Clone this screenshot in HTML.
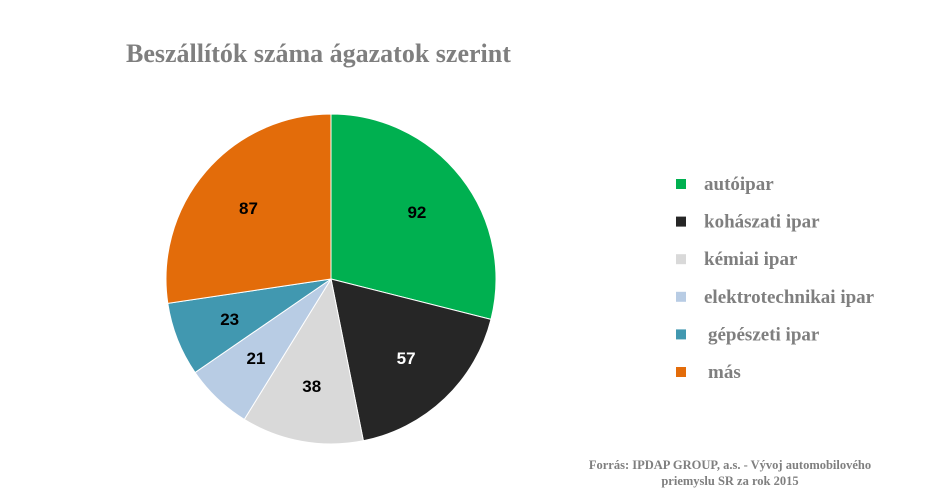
<!DOCTYPE html>
<html><head><meta charset="utf-8"><style>
body{margin:0;background:#fff;width:945px;height:493px;overflow:hidden}
svg{display:block}
</style></head><body>
<svg id="chart" width="945" height="493" xmlns="http://www.w3.org/2000/svg">
<text x="126" y="62" font-family="Liberation Serif, serif" font-weight="bold" font-size="26" fill="#7f7f7f">Beszállítók száma ágazatok szerint</text>
<g id="slices"></g>
<g id="labels"></g>
<g id="legend"></g>
<text font-family="Liberation Serif, serif" font-weight="bold" font-size="12.5" fill="#7f7f7f" text-anchor="middle"><tspan x="730" y="469">Forrás: IPDAP GROUP, a.s. - Vývoj automobilového</tspan><tspan x="730" y="485">priemyslu SR za rok 2015</tspan></text>
</svg>
<script>
const categories=["autóipar","kohászati ipar","kémiai ipar","elektrotechnikai ipar","gépészeti ipar","más"];
const values=[92,57,38,21,23,87];
const colors=["#00b050","#262626","#d9d9d9","#b8cce4","#4198b0","#e36c0a"];
const NS="http://www.w3.org/2000/svg";
const cx=331,cy=279,r=165;
const total=values.reduce((a,b)=>a+b,0);
const gS=document.getElementById('slices'),gL=document.getElementById('labels'),gG=document.getElementById('legend');
let a0=-Math.PI/2;
values.forEach((v,i)=>{
  const a1=a0+v/total*2*Math.PI;
  const x0=cx+r*Math.cos(a0),y0=cy+r*Math.sin(a0),x1=cx+r*Math.cos(a1),y1=cy+r*Math.sin(a1);
  const p=document.createElementNS(NS,'path');
  p.setAttribute('d',`M${cx},${cy}L${x0},${y0}A${r},${r} 0 ${a1-a0>Math.PI?1:0} 1 ${x1},${y1}Z`);
  p.setAttribute('fill',colors[i]);p.setAttribute('stroke','#fff');p.setAttribute('stroke-width','1');
  
  
  gS.appendChild(p);
  const am=(a0+a1)/2,lr=r*0.66;
  const t=document.createElementNS(NS,'text');
  t.setAttribute('x',cx+lr*Math.cos(am));t.setAttribute('y',cy+lr*Math.sin(am)+6);
  t.setAttribute('text-anchor','middle');t.setAttribute('font-family','Liberation Sans, sans-serif');
  t.setAttribute('font-weight','bold');t.setAttribute('font-size','17');
  t.setAttribute('fill',i==1?'#fff':'#000');
  t.textContent=v;
  
  
  gL.appendChild(t);
  a0=a1;
});
categories.forEach((c,i)=>{
  const y=184+i*37.6;
  const g=document.createElementNS(NS,'g');
  
  
  const s=document.createElementNS(NS,'rect');
  s.setAttribute('x',676);s.setAttribute('y',y-5);s.setAttribute('width',10);s.setAttribute('height',10);s.setAttribute('fill',colors[i]);
  
  
  const t=document.createElementNS(NS,'text');
  t.setAttribute('x',i>=4?708:704);t.setAttribute('y',y+6);
  t.setAttribute('font-family','Liberation Serif, serif');t.setAttribute('font-weight','bold');t.setAttribute('font-size','19');t.setAttribute('fill','#7f7f7f');
  t.textContent=c;
  
  
  g.appendChild(s);g.appendChild(t);gG.appendChild(g);
});
</script>
</body></html>
